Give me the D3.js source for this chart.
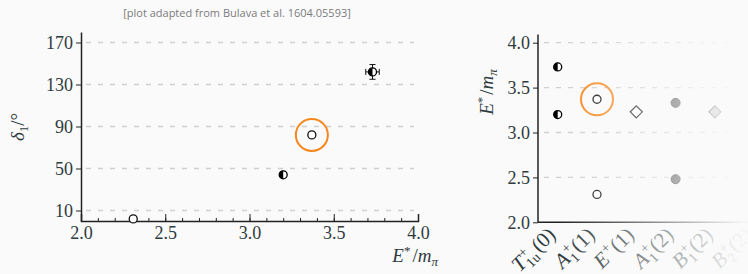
<!DOCTYPE html>
<html lang="en">
<head>
    <meta charset="UTF-8">
    <title>rho phase shift</title>
    <style>
        body{ margin:0; background:#fafafa; }
        svg{ display:block; background:#fafafa; }
        .serif{ font-family:"Liberation Serif", serif; fill:#2f3b3d; }
    </style>
</head>
<body>
    <script src="https://cdn.jsdelivr.net/npm/d3@7"></script>
    <script>
        // left panel : phase shift vs energy
        const leftE = [2.31, 3.20, 3.37, 3.73];
        const leftDelta = [2, 44, 82, 142];
        const leftEErr = [0, 0, 0, 0.04];
        const leftDeltaErr = [0, 0, 0, 7];
        const leftMarker = ['open', 'half', 'open', 'half'];
        const leftHighlight = 2;
        const leftXTicks = [2.0, 2.5, 3.0, 3.5, 4.0];
        const leftYTicks = [10, 50, 90, 130, 170];

        // right panel : levels per irrep
        const irreps = ['T1u+(0)', 'A1+(1)', 'E+(1)', 'A1+(2)', 'B1+(2)', 'B2+(2)'];
        const levelIrrep = ['T1u+(0)', 'T1u+(0)', 'A1+(1)', 'A1+(1)', 'E+(1)', 'A1+(2)', 'A1+(2)', 'B1+(2)'];
        const levelE = [3.73, 3.20, 3.37, 2.31, 3.23, 3.33, 2.48, 3.23];
        const levelMarker = ['half', 'half', 'open', 'open', 'diamondOpen', 'filled', 'filled', 'diamondFilled'];
        const rightHighlight = 2;
        const rightYTicks = [2.0, 2.5, 3.0, 3.5, 4.0];

        const W = 748, H = 274;
        const svg = d3.select('body').append('svg').attr('width', W).attr('height', H);

        const defs = svg.append('defs');
        const grad = defs.append('linearGradient').attr('id', 'fade')
            .attr('gradientUnits', 'userSpaceOnUse')
            .attr('x1', 560).attr('x2', 742).attr('y1', 0).attr('y2', 0);
        grad.append('stop').attr('offset', 0).attr('stop-color', '#fafafa').attr('stop-opacity', 0);
        grad.append('stop').attr('offset', 1).attr('stop-color', '#fafafa').attr('stop-opacity', 0.97);

        function drawMarker(g, cx, cy, type){
            if(type === 'open'){
                g.append('circle').attr('cx', cx).attr('cy', cy).attr('r', 4)
                    .attr('fill', '#fff').attr('stroke', '#111').attr('stroke-width', 1.3);
            } else if(type === 'half'){
                g.append('circle').attr('cx', cx).attr('cy', cy).attr('r', 4)
                    .attr('fill', '#fff').attr('stroke', '#000').attr('stroke-width', 1.3);
                g.append('path')
                    .attr('d', `M${cx},${cy-4} A4,4 0 0,0 ${cx},${cy+4} Z`)
                    .attr('fill', '#000');
            } else if(type === 'filled'){
                g.append('circle').attr('cx', cx).attr('cy', cy).attr('r', 4.5)
                    .attr('fill', '#333').attr('stroke', '#111').attr('stroke-width', 1);
            } else {
                const s = 6;
                g.append('path')
                    .attr('d', `M${cx},${cy-s} L${cx+s},${cy} L${cx},${cy+s} L${cx-s},${cy} Z`)
                    .attr('fill', type === 'diamondFilled' ? '#999' : '#fff')
                    .attr('stroke', '#000').attr('stroke-width', 1.2);
            }
        }

        function styleTicks(g){
            g.selectAll('.tick text')
                .style('font-family', '"Liberation Serif", serif')
                .style('font-size', '18px')
                .style('fill', '#2f3b3d');
        }

        // titre
        svg.append('text')
            .attr('x', 237).attr('y', 17)
            .attr('text-anchor', 'middle')
            .style('font-family', '"Open Sans", sans-serif')
            .style('font-size', '11px')
            .style('fill', '#7a7a7a')
            .text('[plot adapted from Bulava et al. 1604.05593]');

        // ---------- panneau gauche ----------
        const x1 = d3.scaleLinear().domain([2, 4]).range([81, 418]);
        const y1 = d3.scaleLinear().domain([0, 180]).range([221, 32]);
        const left = svg.append('g');

        left.append('g').selectAll('line')
            .data(leftYTicks)
            .enter()
            .append('line')
                .attr('x1', 86).attr('x2', 414)
                .attr('y1', d => y1(d)).attr('y2', d => y1(d))
                .attr('stroke', '#cfcfcf').attr('stroke-width', 1.3)
                .attr('stroke-dasharray', '5,7');

        // petites graduations
        left.append('g')
            .attr('transform', `translate(0,${y1(0)})`)
            .call(d3.axisBottom(x1).ticks(20).tickSize(-3).tickFormat(''))
            .call(g => g.select('.domain').remove())
            .selectAll('line').attr('stroke', '#222');

        left.append('g')
            .attr('transform', `translate(0,${y1(0)})`)
            .call(d3.axisBottom(x1).tickValues(leftXTicks).tickSize(-7).tickPadding(5).tickFormat(d3.format('.1f')))
            .call(g => g.select('.domain').attr('stroke', '#222').attr('stroke-width', 1.5))
            .call(g => g.selectAll('.tick line').attr('stroke', '#222'))
            .call(styleTicks);

        left.append('g')
            .attr('transform', `translate(${x1(2)},0)`)
            .call(d3.axisLeft(y1).tickValues(leftYTicks).tickSize(5).tickPadding(3).tickSizeOuter(0))
            .call(g => g.select('.domain').attr('stroke', '#222').attr('stroke-width', 1.5))
            .call(g => g.selectAll('.tick line').attr('stroke', '#222'))
            .call(styleTicks);

        // barres d'erreur
        leftE.forEach((e, i) => {
            if(leftEErr[i] > 0){
                const cy = y1(leftDelta[i]);
                left.append('line').attr('x1', x1(e - leftEErr[i])).attr('x2', x1(e + leftEErr[i]))
                    .attr('y1', cy).attr('y2', cy).attr('stroke', '#111');
                [e - leftEErr[i], e + leftEErr[i]].forEach(v => left.append('line')
                    .attr('x1', x1(v)).attr('x2', x1(v)).attr('y1', cy - 3).attr('y2', cy + 3).attr('stroke', '#111'));
            }
            if(leftDeltaErr[i] > 0){
                const cx = x1(e);
                left.append('line').attr('x1', cx).attr('x2', cx)
                    .attr('y1', y1(leftDelta[i] - leftDeltaErr[i])).attr('y2', y1(leftDelta[i] + leftDeltaErr[i])).attr('stroke', '#111');
                [leftDelta[i] - leftDeltaErr[i], leftDelta[i] + leftDeltaErr[i]].forEach(v => left.append('line')
                    .attr('x1', cx - 3).attr('x2', cx + 3).attr('y1', y1(v)).attr('y2', y1(v)).attr('stroke', '#111'));
            }
        });
        leftE.forEach((e, i) => drawMarker(left, x1(e), y1(leftDelta[i]), leftMarker[i]));

        left.append('circle')
            .attr('cx', x1(leftE[leftHighlight])).attr('cy', y1(leftDelta[leftHighlight]))
            .attr('r', 16).attr('fill', 'none').attr('stroke', '#f7871c').attr('stroke-width', 2);

        const yl1 = svg.append('text').attr('class', 'serif')
            .attr('transform', 'translate(24,127) rotate(-90)')
            .attr('text-anchor', 'middle').style('font-size', '19px');
        yl1.append('tspan').style('font-style', 'italic').text('δ');
        yl1.append('tspan').style('font-size', '13px').attr('dy', 4).text('1');
        yl1.append('tspan').attr('dy', -4).text('/°');

        const xl1 = svg.append('text').attr('class', 'serif')
            .attr('x', 438).attr('y', 262).attr('text-anchor', 'end').style('font-size', '19px');
        xl1.append('tspan').style('font-style', 'italic').text('E');
        xl1.append('tspan').style('font-size', '13px').attr('dy', -7).text('*');
        xl1.append('tspan').attr('dy', 7).attr('dx', 2).text('/');
        xl1.append('tspan').style('font-style', 'italic').text('m');
        xl1.append('tspan').style('font-style', 'italic').style('font-size', '13px').attr('dy', 4).text('π');

        // ---------- panneau droit ----------
        const x2 = d3.scalePoint().domain(irreps).range([557.7, 754.2]);
        const y2 = d3.scaleLinear().domain([2, 4]).range([222.3, 42.7]);
        const right = svg.append('g');

        right.append('g').selectAll('line')
            .data(rightYTicks.slice(1))
            .enter()
            .append('line')
                .attr('x1', 544).attr('x2', W)
                .attr('y1', d => y2(d)).attr('y2', d => y2(d))
                .attr('stroke', '#cfcfcf').attr('stroke-width', 1.3)
                .attr('stroke-dasharray', '5,7');

        right.append('line')
            .attr('x1', 538).attr('x2', W).attr('y1', y2(2)).attr('y2', y2(2))
            .attr('stroke', '#222').attr('stroke-width', 1.5);

        levelE.forEach((e, i) => drawMarker(right, x2(levelIrrep[i]), y2(e), levelMarker[i]));

        right.append('circle')
            .attr('cx', x2(levelIrrep[rightHighlight])).attr('cy', y2(levelE[rightHighlight]))
            .attr('r', 16).attr('fill', 'none').attr('stroke', '#f7871c').attr('stroke-width', 2);

        // etiquettes des irreps
        const labelParts = {
            'T1u+(0)': ['T', '1u', '(0)'],
            'A1+(1)': ['A', '1', '(1)'],
            'E+(1)': ['E', '', '(1)'],
            'A1+(2)': ['A', '1', '(2)'],
            'B1+(2)': ['B', '1', '(2)'],
            'B2+(2)': ['B', '2', '(2)']
        };
        irreps.forEach(name => {
            const p = labelParts[name];
            const t = right.append('text').attr('class', 'serif')
                .attr('transform', `translate(${x2(name) - 1},236) rotate(-45)`)
                .attr('text-anchor', 'end').style('font-size', '21px');
            t.append('tspan').style('font-style', 'italic').text(p[0]);
            t.append('tspan').style('font-size', '14px').attr('dy', -8).attr('dx', 1).text('+');
            if(p[1] !== ''){
                const back = p[1].length > 1 ? -9 : -8;
                t.append('tspan').style('font-size', '14px').attr('dx', back).attr('dy', 13).text(p[1]);
                t.append('tspan').attr('dy', -5).attr('dx', 2).text(p[2]);
            } else {
                t.append('tspan').attr('dy', 8).attr('dx', 1).text(p[2]);
            }
        });

        // fondu vers la droite
        right.append('rect')
            .attr('x', 545).attr('y', 30).attr('width', W - 545).attr('height', H - 30)
            .attr('fill', 'url(#fade)');

        right.append('g')
            .attr('transform', 'translate(538,0)')
            .call(d3.axisLeft(y2).tickValues(rightYTicks).tickSize(5).tickPadding(3).tickSizeOuter(0).tickFormat(d3.format('.1f')))
            .call(g => g.select('.domain').attr('d', `M0,${y2(4.09)}V${y2(2)}`).attr('stroke', '#222').attr('stroke-width', 1.5))
            .call(g => g.selectAll('.tick line').attr('stroke', '#222'))
            .call(styleTicks);

        const yl2 = svg.append('text').attr('class', 'serif')
            .attr('transform', 'translate(493,92) rotate(-90)')
            .attr('text-anchor', 'middle').style('font-size', '19px');
        yl2.append('tspan').style('font-style', 'italic').text('E');
        yl2.append('tspan').style('font-size', '13px').attr('dy', -7).text('*');
        yl2.append('tspan').attr('dy', 7).attr('dx', 2).text('/');
        yl2.append('tspan').style('font-style', 'italic').text('m');
        yl2.append('tspan').style('font-style', 'italic').style('font-size', '13px').attr('dy', 4).text('π');
    </script>
</body>
</html>
